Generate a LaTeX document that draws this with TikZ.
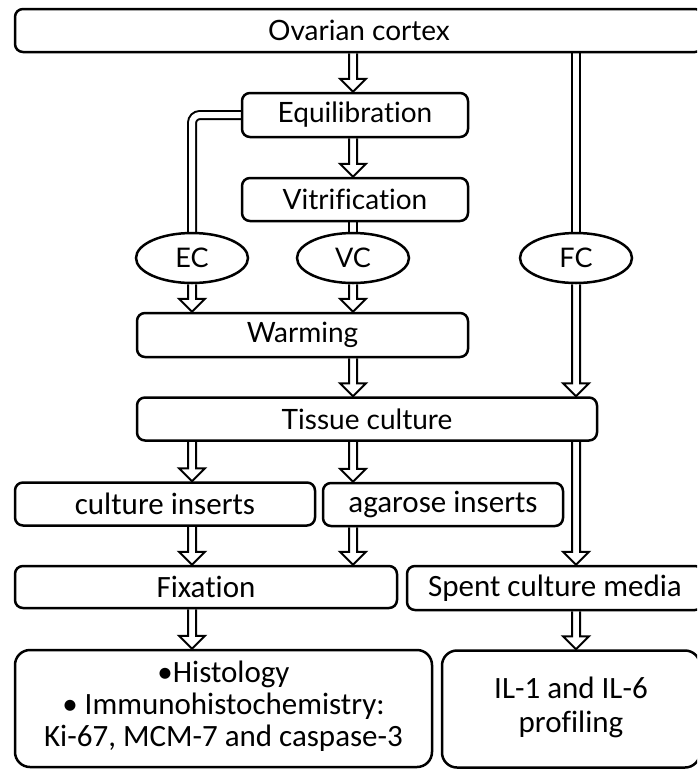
\documentclass[tikz,border=0pt]{standalone}
\usepackage{fontspec}
\setmainfont[Ligatures=NoCommon]{Carlito}
\newfontfamily\gill[Ligatures=NoCommon]{Lato}
\usetikzlibrary{shapes.geometric,calc}
\pgfdeclarelayer{bg}
\pgfsetlayers{bg,main}

\begin{document}
\begin{tikzpicture}[x=1pt,y=-1pt,
    boxND/.style={rectangle,
                  rounded corners=8pt,
                  draw=black,
                  line width=2.5pt,
                  fill=white,
                  inner sep=0pt},
    topND/.style={boxND, font=\gill\fontsize{28}{30}\selectfont},
    lowND/.style={boxND, font=\fontsize{31}{32}\selectfont},
    grpND/.style={ellipse,
                  draw=black,
                  line width=2.5pt,
                  fill=white,
                  minimum width=112pt,
                  minimum height=50pt,
                  inner sep=0pt,
                  font=\gill\fontsize{27}{28}\selectfont},
    dline/.style={draw, double, double distance=6pt, line width=2pt},
    hollow/.style={draw, line width=2pt,
                   to path={let \p1=(\tikztostart), \p2=(\tikztotarget) in
                            (\x1-4pt,\y1) -- (\x1-4pt,\y2+13pt) -- (\x1-13pt,\y2+13pt)
                            -- (\x1,\y2) -- (\x1+13pt,\y2+13pt) -- (\x1+4pt,\y2+13pt)
                            -- (\x1+4pt,\y1)}}]
    \useasboundingbox (0,0) rectangle (697,769);
    \clip (0,0) rectangle (697,769);

    \node[topND, minimum width=688pt, minimum height=43pt](ov)  at (359,30.5)  {Ovarian cortex};
    \node[topND, minimum width=226pt, minimum height=44pt](eqm) at (355,115)   {Equilibration};
    \node[topND, minimum width=226pt, minimum height=43pt](vit) at (355,199.5) {Vitrification};
    \node[grpND](ec) at (192,258) {EC};
    \node[grpND](vc) at (353,258) {VC};
    \node[grpND](fc) at (576,258) {FC};
    \node[topND, minimum width=331pt, minimum height=44pt](warm) at (302.5,335) {Warming};
    \node[topND, minimum width=460pt, minimum height=43pt](tc)   at (367,419)   {Tissue culture};
    \node[lowND, minimum width=300pt, minimum height=43pt](ci)   at (165,504)   {culture inserts};
    \node[lowND, minimum width=240pt, minimum height=43pt](ag)   at (443,504.5) {agarose inserts};
    \node[lowND, minimum width=382pt, minimum height=42pt](fix)  at (206,587)   {Fixation};
    \node[lowND, minimum width=296pt, minimum height=44pt](sp)   at (555,588)   {Spent culture media};
    \node[lowND, rounded corners=15pt, minimum width=417pt, minimum height=117pt](res) at (223.5,708.5)
        {\begin{tabular}{@{}c@{}}\textbullet Histology\\\textbullet{} Immunohistochemistry:\\Ki-67, MCM-7 and caspase-3\end{tabular}};
    \node[lowND, font=\fontsize{31}{34}\selectfont, rounded corners=15pt, minimum width=258pt, minimum height=117pt](il)  at (571,709)
        {\begin{tabular}{@{}c@{}}IL-1 and IL-6\\profiling\end{tabular}};

    \begin{pgfonlayer}{bg}
    \draw[dline, rounded corners=8pt] (eqm.west) -| (ec.north);
    \draw[dline] (vit.south -| vc) -- (vc.north);
    \draw[dline] (ov.south -| fc) -- (fc.north);
    \path
        (ov.south -| vc)   edge[hollow] (eqm.north -| vc)
        (eqm.south -| vc)  edge[hollow] (vit.north -| vc)
        (ec.south)         edge[hollow] (warm.north -| ec)
        (vc.south)         edge[hollow] (warm.north -| vc)
        (warm.south -| vc) edge[hollow] (tc.north -| vc)
        (fc.south)         edge[hollow] (tc.north -| fc)
        (tc.south -| ec)   edge[hollow] (ci.north -| ec)
        (tc.south -| vc)   edge[hollow] (ag.north -| vc)
        (tc.south -| fc)   edge[hollow] (sp.north -| fc)
        (ci.south -| ec)   edge[hollow] (fix.north -| ec)
        (ag.south -| vc)   edge[hollow] (fix.north -| vc)
        (fix.south -| ec)  edge[hollow] (res.north -| ec)
        (sp.south -| fc)   edge[hollow] (il.north -| fc)
        ;
    \end{pgfonlayer}
\end{tikzpicture}
\end{document}
